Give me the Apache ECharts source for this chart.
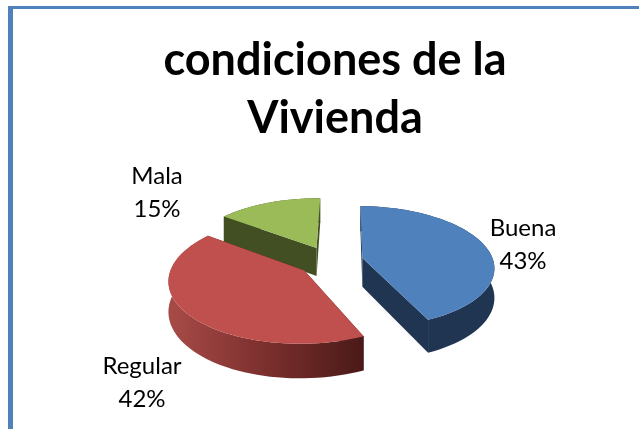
<!DOCTYPE html>
<html>
<head>
<meta charset="utf-8">
<style>html,body{margin:0;padding:0;background:#fff}#c{width:639px;height:429px}</style>
<script src="https://cdn.jsdelivr.net/npm/echarts@6/dist/echarts.min.js"></script>
</head>
<body>
<div id="c"></div>
<script>
const categories = ['Buena', 'Regular', 'Mala'];
const values = [43, 42, 15];
const titleLines = ['condiciones de la', 'Vivienda'];

const topColors = ['#4f81bd', '#c0504d', '#9bbb59'];
const wallColors = ['#1f3552', '#4a1a18', '#414f22'];
const labelAnchors = [[523, 245], [142, 383], [157, 193]];

const CX = 330.5, CY = 261, A = 131, B = 60, P = 0.14, H = 29, EXPLODE = 0.25, START = 1;
function project(X, Y, z) {
  const d = 1 + P * Y;
  return [CX + A * X / d, CY - B * Y / d + z * H / d];
}
const total = values.reduce((a, b) => a + b, 0);
const spans = [];
values.reduce((acc, v) => { spans.push([acc, acc + v / total * 360]); return acc + v / total * 360; }, START);

function slicePts(i, z) {
  const [a0, a1] = spans[i];
  const mid = (a0 + a1) / 2 * Math.PI / 180;
  const ox = Math.sin(mid) * EXPLODE, oy = Math.cos(mid) * EXPLODE;
  const arc = [];
  for (let a = a0; a <= a1 + 1e-6; a += (a1 - a0) / 60) {
    const t = a * Math.PI / 180;
    arc.push(project(ox + Math.sin(t), oy + Math.cos(t), z));
  }
  return { apex: project(ox, oy, z), arc };
}

function renderItem(params, api) {
  const i = api.value(0);
  const top = slicePts(i, 0), bot = slicePts(i, 1);
  const n = top.arc.length - 1;
  const poly = (points, fill) => ({ type: 'polygon', shape: { points }, style: { fill, stroke: null } });
  const outerFill = i === 1
    ? new echarts.graphic.LinearGradient(0, 0, 1, 0, [
        { offset: 0, color: '#a84b48' }, { offset: 0.5, color: '#7b2f2d' }, { offset: 1, color: '#4a1a18' }])
    : wallColors[i];
  return {
    type: 'group',
    children: [
      poly([top.apex, top.arc[0], bot.arc[0], bot.apex], wallColors[i]),
      poly([top.apex, top.arc[n], bot.arc[n], bot.apex], wallColors[i]),
      poly(top.arc.concat(bot.arc.slice().reverse()), outerFill),
      poly([top.apex].concat(top.arc), topColors[i]),
      {
        type: 'text',
        z2: 5,
        style: {
          text: categories[i] + '\n' + Math.round(api.value(1)) + '%',
          x: labelAnchors[i][0], y: labelAnchors[i][1],
          align: 'center', verticalAlign: 'middle',
          font: '24px Lato', lineHeight: 33, fill: '#000'
        }
      }
    ]
  };
}

// painter's order: back slice first
const drawOrder = [2, 1, 0];
const chart = echarts.init(document.getElementById('c'), null, { renderer: 'canvas' });
chart.setOption({
  animation: false,
  backgroundColor: '#fff',
  title: {
    text: titleLines.join('\n'),
    left: 330, top: 26, textAlign: 'center',
    textStyle: { fontFamily: 'Lato', fontWeight: 'bold', fontSize: 45, lineHeight: 58, color: '#000' }
  },
  graphic: [
    { type: 'rect', shape: { x: 8, y: 6, width: 631, height: 3 }, style: { fill: '#4f81bd' } },
    { type: 'rect', shape: { x: 8, y: 6, width: 5, height: 423 }, style: { fill: '#4f81bd' } }
  ],
  series: [{
    type: 'custom',
    coordinateSystem: 'none',
    renderItem,
    data: drawOrder.map(i => [i, values[i]])
  }]
});
</script>
</body>
</html>
